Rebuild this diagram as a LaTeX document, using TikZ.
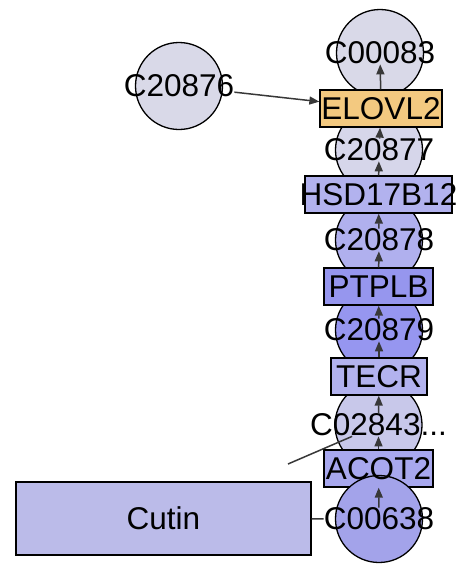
\documentclass[tikz,border=0pt]{standalone}
\usepackage{fontspec}
\setmainfont{Liberation Sans}
\usepackage{xcolor}
\usetikzlibrary{arrows.meta}
\definecolor{palecmp}{RGB}{217,217,232}
\definecolor{cmpa}{RGB}{214,214,234}
\definecolor{cmpb}{RGB}{176,176,238}
\definecolor{cmpc}{RGB}{150,150,240}
\definecolor{cmpd}{RGB}{200,200,234}
\definecolor{cmpe}{RGB}{163,163,234}
\definecolor{elovl}{RGB}{243,201,128}
\definecolor{enza}{RGB}{178,178,238}
\definecolor{enzb}{RGB}{150,150,238}
\definecolor{enzc}{RGB}{168,168,238}
\definecolor{cutinfill}{RGB}{187,187,233}
\tikzset{
  met/.style={circle, draw=black, line width=1.3pt, minimum size=87pt, inner sep=0pt},
  enz/.style={rectangle, draw=black, line width=1.3pt, minimum height=37pt, inner sep=0pt},
  lbl/.style={font=\fontsize{31.5}{37}\selectfont, inner sep=0pt},
  arr/.style={draw=black!78, line width=1.5pt, -{Triangle[length=10pt,width=8pt]}},
  lnk/.style={draw=black!78, line width=1.5pt}
}
\begin{document}
\begin{tikzpicture}[x=1pt, y=-1pt]
    \useasboundingbox (0,0) rectangle (471,565);
    % Compounds
    \node [met, fill=palecmp] (C00083) at (380,53) {};
    \node [met, fill=palecmp] (C20876) at (179,86) {};
    \node [met, fill=cmpa] (C20877) at (379,150) {};
    \node [met, fill=cmpb] (C20878) at (379,240) {};
    \node [met, fill=cmpc] (C20879) at (379,330) {};
    \node [met, fill=cmpd] (C02843) at (378.5,425) {};
    % Enzymes
    \node [enz, fill=elovl, minimum width=122pt] (ELOVL2) at (381,108.5) {};
    \node [enz, fill=enza, minimum width=147pt] (HSD17B12) at (378.5,194.5) {};
    \node [enz, fill=enzb, minimum width=109pt] (PTPLB) at (378.5,286.5) {};
    \node [enz, fill=enza, minimum width=96pt] (TECR) at (379,376.5) {};
    \node [enz, fill=enzc, minimum width=109pt] (ACOT2) at (378.5,468.5) {};
    \node [enz, fill=cutinfill, minimum width=295pt, minimum height=73pt] (Cutin) at (163.5,518.5) {};
    \node [met, fill=cmpe] (C00638) at (379,519) {};
    \coordinate (stub) at (288,464);

    % Labels
    \node [lbl] (tC00083) at (C00083) {C00083};
    \node [lbl] (tC20876) at (C20876) {C20876};
    \node [lbl] (tC20877) at (C20877) {C20877};
    \node [lbl] (tC20878) at (C20878) {C20878};
    \node [lbl] (tC20879) at (C20879) {C20879};
    \node [lbl] (tC02843) at (C02843) {C02843...};
    \node [lbl] (tC00638) at (C00638) {C00638};
    \node [lbl] (tELOVL2) at (ELOVL2) {ELOVL2};
    \node [lbl] (tHSD17B12) at (HSD17B12) {HSD17B12};
    \node [lbl] (tPTPLB) at (PTPLB) {PTPLB};
    \node [lbl] (tTECR) at (TECR) {TECR};
    \node [lbl] (tACOT2) at (ACOT2) {ACOT2};
    \node [lbl] (tCutin) at (Cutin) {Cutin};

    % Edges
    \path [arr] (tC00638) -- (ACOT2);
    \path [arr] (ACOT2) -- (tC02843);
    \path [arr] (tC02843) -- (TECR);
    \path [arr] (TECR) -- (tC20879);
    \path [arr] (tC20879) -- (PTPLB);
    \path [arr] (PTPLB) -- (tC20878);
    \path [arr] (tC20878) -- (HSD17B12);
    \path [arr] (HSD17B12) -- (tC20877);
    \path [arr] (tC20877) -- (ELOVL2);
    \path [arr] (ELOVL2) -- (tC00083);
    \path [arr] (tC20876) -- (ELOVL2);
    \path [lnk] (Cutin) -- (tC00638);
    \path [lnk] (stub) -- (tC02843);
\end{tikzpicture}
\end{document}
